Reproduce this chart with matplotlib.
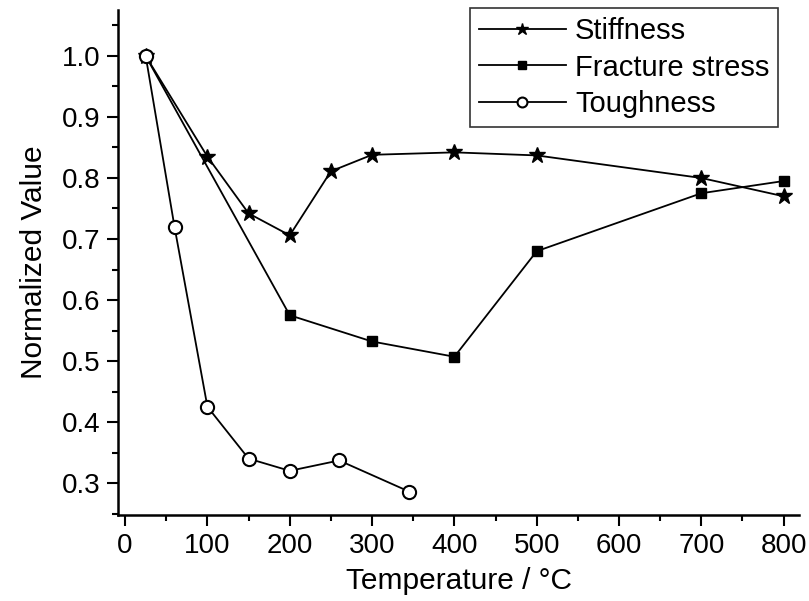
import matplotlib
matplotlib.use('Agg')
import matplotlib.pyplot as plt
from matplotlib.ticker import AutoMinorLocator, FormatStrFormatter

plt.rcParams['font.family'] = ['Liberation Sans', 'DejaVu Sans']

# normalized mechanical properties vs. treatment temperature
stiff_t = [25, 100, 150, 200, 250, 300, 400, 500, 700, 800]
stiff_v = [1.0, 0.835, 0.742, 0.706, 0.811, 0.838, 0.842, 0.837, 0.800, 0.770]

frac_t = [25, 200, 300, 400, 500, 700, 800]
frac_v = [1.0, 0.575, 0.532, 0.507, 0.680, 0.775, 0.795]

tough_t = [25, 60, 100, 150, 200, 260, 345]
tough_v = [1.0, 0.72, 0.425, 0.340, 0.320, 0.337, 0.286]

fig = plt.figure(figsize=(8.09, 6.01), dpi=100)
ax = fig.add_axes([0.146, 0.143, 0.842, 0.840])

ax.plot(stiff_t, stiff_v, color='k', lw=1.3, marker='*', ms=12,
        mfc='k', mec='k', label='Stiffness')
ax.plot(frac_t, frac_v, color='k', lw=1.3, marker='s', ms=7.5,
        mfc='k', mec='k', label='Fracture stress')
ax.plot(tough_t, tough_v, color='k', lw=1.3, marker='o', ms=9.5,
        mfc='white', mec='k', mew=1.5, label='Toughness')

ax.set_xlim(-8.5, 819)
ax.set_ylim(0.2475, 1.075)
ax.set_xticks(range(0, 801, 100))
ax.set_yticks([0.3, 0.4, 0.5, 0.6, 0.7, 0.8, 0.9, 1.0])
ax.yaxis.set_major_formatter(FormatStrFormatter('%.1f'))
ax.xaxis.set_minor_locator(AutoMinorLocator(2))
ax.yaxis.set_minor_locator(AutoMinorLocator(2))

for s in ['top', 'right']:
    ax.spines[s].set_visible(False)
for s in ['left', 'bottom']:
    ax.spines[s].set_linewidth(1.8)

ax.tick_params(which='major', direction='out', length=8, width=1.5,
               labelsize=20, pad=5)
ax.tick_params(which='minor', direction='out', length=4, width=1.5)

ax.set_xlabel('Temperature / °C', fontsize=21.5, labelpad=6)
ax.set_ylabel('Normalized Value', fontsize=21.5, labelpad=10)

leg = ax.legend(loc='upper right', bbox_to_anchor=(778 / 809, 1 - 8 / 601),
                bbox_transform=fig.transFigure, fontsize=21,
                frameon=True, fancybox=False, edgecolor='k',
                handlelength=3.0, handletextpad=0.3, labelspacing=0.3,
                borderpad=0.3, borderaxespad=0, markerscale=0.75)
leg.get_frame().set_linewidth(1.2)

fig.savefig('out.png', dpi=100)
